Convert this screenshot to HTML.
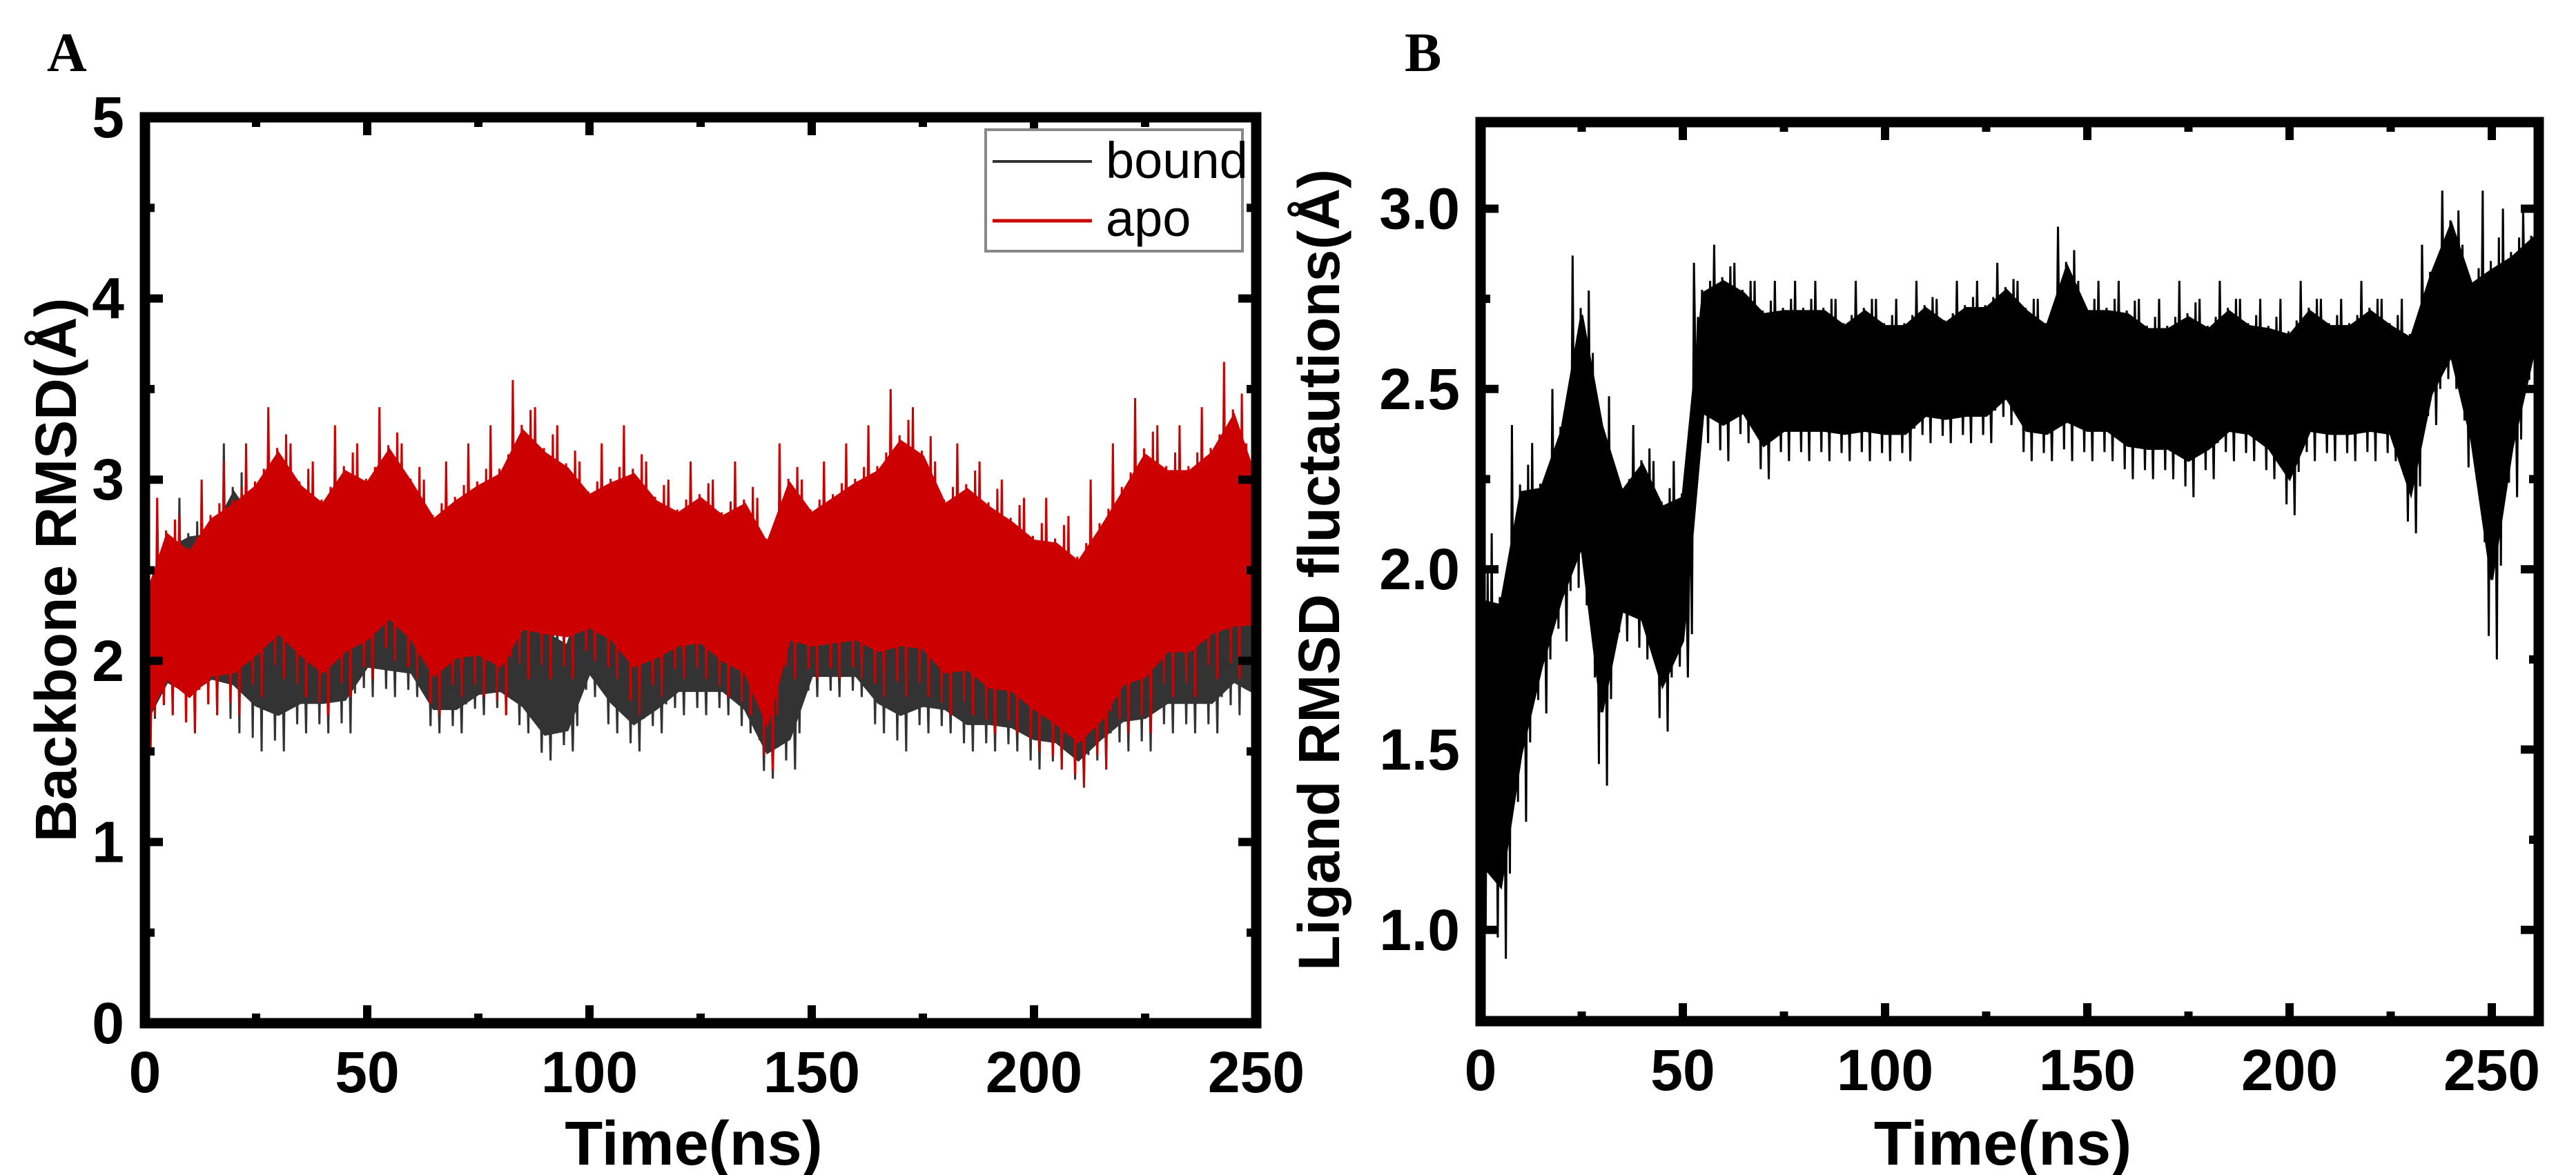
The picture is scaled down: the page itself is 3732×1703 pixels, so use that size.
<!DOCTYPE html>
<html><head><meta charset="utf-8"><style>
html,body{margin:0;padding:0;background:#fff;}
svg{display:block;font-family:"Liberation Sans",sans-serif;}
</style></head><body>
<svg id="fig" width="3732" height="1703" viewBox="0 0 3732 1703"></svg>
<script>
// Panel A data (5 ns bins)
const timeA = [0,5,10,15,20,25,30,35,40,45,50,55,60,65,70,75,80,85,90,95,100,105,110,115,120,125,130,135,140,145,150,155,160,165,170,175,180,185,190,195,200,205,210,215,220,225,230,235,240,245,250];
const apoHi = [2.5,2.9,2.8,3.0,3.1,3.2,3.4,3.2,3.1,3.3,3.2,3.4,3.2,3.0,3.1,3.2,3.3,3.55,3.4,3.3,3.1,3.2,3.3,3.1,3.0,3.1,3.0,3.1,2.9,3.2,3.0,3.1,3.2,3.3,3.5,3.4,3.1,3.2,3.1,3.0,2.9,2.9,2.8,3.0,3.2,3.45,3.3,3.3,3.4,3.65,3.2];
const apoLo = [1.5,1.7,1.6,1.7,1.7,1.8,1.9,1.8,1.7,1.8,1.9,2.0,1.9,1.7,1.8,1.8,1.7,1.9,1.9,1.9,2.0,1.9,1.7,1.8,1.9,1.9,1.8,1.7,1.4,1.9,1.9,1.9,1.9,1.8,1.8,1.8,1.7,1.7,1.6,1.6,1.5,1.4,1.3,1.4,1.6,1.6,1.8,1.8,1.9,1.9,2.0];
const boundHi = [2.4,2.8,2.9,2.9,3.2,3.0,2.7,2.6,2.6,2.7,2.8,2.7,2.6,2.4,2.4,2.4,2.5,2.5,2.3,2.2,2.6,2.6,2.4,2.4,2.5,2.5,2.5,2.4,2.2,2.4,2.5,2.5,2.5,2.6,2.7,2.5,2.4,2.4,2.4,2.3,2.4,2.3,2.2,2.4,2.5,2.6,2.6,2.6,2.6,2.8,2.4];
const boundLo = [1.5,1.7,1.6,1.7,1.6,1.5,1.5,1.6,1.6,1.6,1.8,1.8,1.8,1.6,1.6,1.7,1.7,1.6,1.45,1.5,1.8,1.6,1.5,1.6,1.7,1.7,1.7,1.6,1.35,1.4,1.8,1.8,1.8,1.6,1.5,1.6,1.6,1.5,1.5,1.5,1.4,1.4,1.3,1.4,1.5,1.5,1.6,1.6,1.6,1.7,1.7];
const xTicksA = [0,50,100,150,200,250];
const yTicksA = [0,1,2,3,4,5];
// Panel B data (5 ns bins)
const timeB = [0,5,10,15,20,25,30,35,40,45,50,55,60,65,70,75,80,85,90,95,100,105,110,115,120,125,130,135,140,145,150,155,160,165,170,175,180,185,190,195,200,205,210,215,220,225,230,235,240,245,250,255,260];
const ligHi = [2.1,2.1,2.4,2.35,2.5,2.87,2.6,2.3,2.4,2.3,2.3,2.85,2.9,2.85,2.8,2.8,2.8,2.8,2.75,2.8,2.75,2.75,2.8,2.75,2.8,2.8,2.85,2.8,2.75,2.95,2.8,2.8,2.8,2.75,2.75,2.8,2.75,2.8,2.75,2.75,2.75,2.8,2.75,2.75,2.8,2.75,2.75,2.9,3.05,2.9,3.05,3.0,3.0];
const ligLo = [1.0,0.92,1.3,1.6,1.8,1.9,1.4,1.8,1.75,1.55,1.7,2.35,2.3,2.35,2.25,2.3,2.3,2.3,2.3,2.3,2.3,2.3,2.35,2.35,2.35,2.35,2.4,2.3,2.3,2.3,2.3,2.3,2.25,2.25,2.25,2.2,2.25,2.3,2.3,2.25,2.15,2.3,2.3,2.3,2.3,2.3,2.1,2.4,2.5,2.25,1.75,2.2,2.5];
const xTicksB = [0,50,100,150,200,250];
const yTicksB = ["1.0","1.5","2.0","2.5","3.0"];

const NS = "http://www.w3.org/2000/svg";
const svg = document.getElementById('fig');
function mk(tag, attrs, parent){ const e=document.createElementNS(NS,tag); for(const k in attrs) e.setAttribute(k,attrs[k]); (parent||svg).appendChild(e); return e; }
const zig = [1.0,0.25,0.7,0.05,0.85,0.3,0.6,0.0,0.9,0.2];

function panel(o){
  const g = mk('g',{});
  
  
  const sx = v => o.L + (v - o.x0) / (o.x1 - o.x0) * (o.R - o.L);
  const sy = v => o.B - (v - o.y0) / (o.y1 - o.y0) * (o.B - o.T);
  const clipId = o.name + '-clip';
  const cp = mk('clipPath',{id:clipId},g); mk('rect',{x:o.L,y:o.T,width:o.R-o.L,height:o.B-o.T},cp);
  const plot = mk('g',{'clip-path':'url(#'+clipId+')'},g);
  o.series.forEach(s=>{
    const n = s.t.length, step = s.t[1]-s.t[0];
    let top=[], bot=[];
    for(let i=0;i<n;i++){
      const r = s.hi[i]-s.lo[i];
      top.push(sx(s.t[i])+','+sy(s.hi[i]-0.17*r));
      bot.unshift(sx(s.t[i])+','+sy(s.lo[i]+0.17*r));
    }
    const poly = mk('polygon',{points:top.concat(bot).join(' '),fill:s.color,stroke:s.color,'stroke-width':4},plot);
    
    
    let pts=[];
    for(let i=0;i<n;i++){
      const r = s.hi[i]-s.lo[i];
      for(let k=0;k<zig.length;k++){
        const t = s.t[i] - step/2 + step*(k+0.5)/zig.length;
        pts.push(sx(t)+','+sy(s.lo[i]+zig[k]*r));
      }
    }
    const line = mk('polyline',{points:pts.join(' '),fill:'none',stroke:s.color,'stroke-width':3},plot);
    
    
  });
  const tk = mk('g',{stroke:'#000','stroke-width':12},g);
  for(let v=o.x0; v<=o.x1+1e-9; v+=o.xminor){
    const major = Math.abs(Math.round(v/o.xmajor)*o.xmajor - v) < 1e-6;
    const len = major?26:14, x=sx(v);
    mk('line',{x1:x,y1:o.B,x2:x,y2:o.B-len},tk); mk('line',{x1:x,y1:o.T,x2:x,y2:o.T+len},tk);
  }
  for(let v=o.yStart; v<=o.y1+1e-9; v+=o.yminor){
    const major = Math.abs(Math.round((v-o.yStart)/o.ymajor)*o.ymajor - (v-o.yStart)) < 1e-6;
    const len = major?26:14, y=sy(v);
    mk('line',{x1:o.L,y1:y,x2:o.L+len,y2:y},tk); mk('line',{x1:o.R,y1:y,x2:o.R-len,y2:y},tk);
  }
  const fr = mk('rect',{x:o.L,y:o.T,width:o.R-o.L,height:o.B-o.T,fill:'none',stroke:'#000','stroke-width':15},g);
  
  
  o.xticks.forEach(v=>{
    const t = mk('text',{x:sx(+v),y:o.B+100,'text-anchor':'middle','font-size':84,'font-weight':'bold'},g);
    t.textContent = v;
    
    
  });
  o.yticks.forEach(v=>{
    const t = mk('text',{x:o.L-30,y:sy(+v)+29,'text-anchor':'end','font-size':84,'font-weight':'bold'},g);
    t.textContent = v;
    
    
  });
  const xt = mk('text',{x:(o.L+o.R)/2-10,y:1688,'text-anchor':'middle','font-size':90,'font-weight':'bold'},g);
  xt.textContent = 'Time(ns)';
  
  
  const yt = mk('text',{x:0,y:0,'text-anchor':'middle','font-size':84,'font-weight':'bold',transform:'translate('+o.ytx+','+o.yty+') rotate(-90)'},g);
  yt.textContent = o.ytitle;
  
  
  const pl = mk('text',{x:o.lx,y:103,'font-family':'"Liberation Serif",serif','font-size':80,'font-weight':'bold'},g);
  pl.textContent = o.label;
  
  
  return g;
}

panel({name:'panel-a',L:210,R:1820,T:170,B:1483,x0:0,x1:250,y0:0,y1:5,yStart:0,xmajor:50,xminor:25,ymajor:1,yminor:0.5,
  xticks:xTicksA,yticks:yTicksA,ytitle:'Backbone RMSD(Å)',ytx:110,yty:826,label:'A',lx:68,
  series:[{name:'bound',t:timeA,hi:boundHi,lo:boundLo,color:'#333333'},{name:'apo',t:timeA,hi:apoHi,lo:apoLo,color:'#cc0000'}]});
panel({name:'panel-b',L:2145,R:3678,T:177,B:1480,x0:0,x1:261.6,y0:0.747,y1:3.24,yStart:1.0,xmajor:50,xminor:25,ymajor:0.5,yminor:0.25,
  xticks:xTicksB,yticks:yTicksB,ytitle:'Ligand RMSD fluctautions(Å)',ytx:1940,yty:826,label:'B',lx:2035,
  series:[{name:'ligand',t:timeB,hi:ligHi,lo:ligLo,color:'#000000'}]});

const lg = mk('g',{});


mk('rect',{x:1428,y:188,width:372,height:176,fill:'#fff',stroke:'#888','stroke-width':4},lg);
mk('line',{x1:1438,y1:234,x2:1582,y2:234,stroke:'#333','stroke-width':4},lg);
mk('line',{x1:1438,y1:320,x2:1582,y2:320,stroke:'#cc0000','stroke-width':5},lg);
const l1 = mk('text',{x:1602,y:258,'font-size':74},lg); l1.textContent='bound';


const l2 = mk('text',{x:1602,y:342,'font-size':74},lg); l2.textContent='apo';


</script>
</body></html>
